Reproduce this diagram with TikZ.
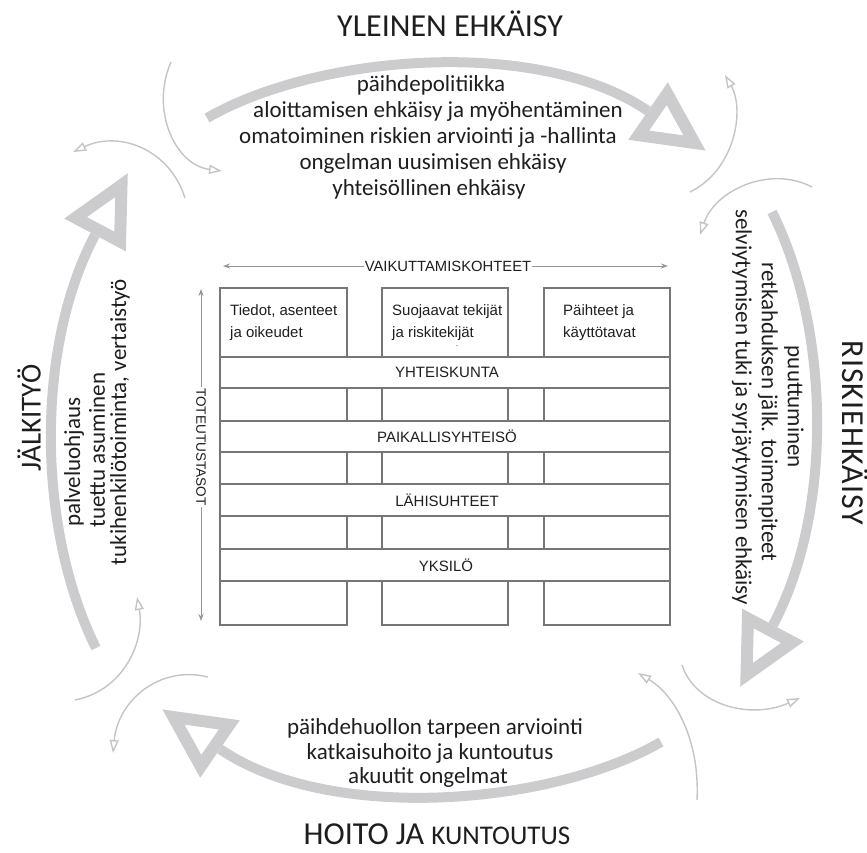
\documentclass[tikz,border=0pt]{standalone}
\usepackage{fontspec}
\setmainfont{Carlito}
\newfontfamily\arialf{Liberation Sans}
\usetikzlibrary{arrows.meta}
\definecolor{biggray}{RGB}{204,204,206}
\definecolor{thingray}{RGB}{196,196,198}
\definecolor{tablegray}{RGB}{118,118,118}
\definecolor{axisgray}{RGB}{150,150,150}
\definecolor{ink}{RGB}{30,30,30}
\begin{document}
\begin{tikzpicture}[x=1pt,y=-1pt,
  shaft/.style={draw=biggray, line width=10pt},
  headtri/.style={draw=biggray, line width=12pt, line join=miter},
  thinarrow/.style={draw=thingray, line width=1.4pt, -{Triangle[open,length=13pt,width=9pt]}},
  tbl/.style={draw=tablegray, line width=1.2pt},
  axis/.style={draw=axisgray, line width=0.9pt, {Stealth[length=7pt,width=5pt]}-{Stealth[length=7pt,width=5pt]}},
  body/.style={font=\fontsize{23}{27}\selectfont, text=ink, inner sep=0pt, anchor=base},
  side/.style={font=\fontsize{23}{27}\selectfont, text=ink, inner sep=0pt},
  head/.style={font=\fontsize{32}{36}\selectfont, text=ink, inner sep=0pt},
  tabtxt/.style={font=\arialf\fontsize{15}{18}\selectfont, text=ink, inner sep=0pt, anchor=base west},
  bandtxt/.style={font=\arialf\fontsize{15}{18}\selectfont, text=ink, inner sep=0pt},
  axtxt/.style={font=\arialf\fontsize{14.8}{16}\selectfont, text=ink, fill=white, inner xsep=1pt, inner ysep=1pt},
]
\useasboundingbox (0,0) rectangle (867,852);

% ---------- big grey cycle arrows ----------
\coordinate (topS) at (207,118);  \coordinate (topM) at (648,111);
\coordinate (rgtS) at (772,212);  \coordinate (rgtM) at (773,625);
\coordinate (botS) at (661,742);  \coordinate (botM) at (220,749);
\coordinate (lftS) at (96,648);   \coordinate (lftM) at (95,235);

\draw[shaft] (topS) .. controls (320,53) and (541,37.4) .. (topM);
\draw[shaft] (rgtS) .. controls (830,328) and (834,510) .. (rgtM);
\draw[shaft] (botS) .. controls (548,807) and (327,822.6) .. (botM);
\draw[shaft] (lftS) .. controls (38,532) and (34,350) .. (lftM);

\foreach \m/\a in {topM/-34.5, rgtM/-118, botM/145.5, lftM/62}{
  \begin{scope}[shift={(\m)}, rotate=\a]
    \draw[headtri] (56.45,0) -- (6.05,25.2) -- (6.05,-25.2) -- cycle;
  \end{scope}
}

% ---------- thin corner arrows ----------
\coordinate (a0) at (171,62);  \coordinate (a1) at (222,171);
\coordinate (b0) at (185,198); \coordinate (b1) at (73,152);
\coordinate (c0) at (690,192); \coordinate (c1) at (725,75);
\coordinate (d0) at (812,187); \coordinate (d1) at (700,235);
\coordinate (e0) at (682,665); \coordinate (e1) at (800,698);
\coordinate (f0) at (697,800); \coordinate (f1) at (638,673);
\coordinate (g0) at (75,700);  \coordinate (g1) at (137,597);
\coordinate (h0) at (208,677); \coordinate (h1) at (113,753);
\draw[thinarrow] (a0) .. controls (150,110) and (175,165) .. (a1);
\draw[thinarrow] (b0) .. controls (170,150) and (120,130) .. (b1);
\draw[thinarrow] (c0) .. controls (735,170) and (745,110) .. (c1);
\draw[thinarrow] (d0) .. controls (770,165) and (715,190) .. (d1);
\draw[thinarrow] (e0) .. controls (695,705) and (750,720) .. (e1);
\draw[thinarrow] (f0) .. controls (700,740) and (675,695) .. (f1);
\draw[thinarrow] (g0) .. controls (125,690) and (145,640) .. (g1);
\draw[thinarrow] (h0) .. controls (160,665) and (118,700) .. (h1);

% ---------- headings ----------
\node[head, anchor=base] (hTop) at (450,36) {YLEINEN EHKÄISY};
\node[head, anchor=base] (hBot) at (437,844) {HOITO JA {\fontsize{27}{30}\selectfont KUNTOUTUS}};
\node[head, rotate=-90] (hRgt) at (855,433) {\addfontfeatures{LetterSpace=3}RISKIEHKÄISY};
\node[head, rotate=90, font=\fontsize{29}{33}\selectfont] (hLft) at (29,418) {JÄLKITYÖ};

% ---------- top texts ----------
\node[body] (t1) at (431,91) {päihdepolitiikka};
\node[body] (t2) at (438,117) {aloittamisen ehkäisy ja myöhentäminen};
\node[body] (t3) at (428,143) {omatoiminen riskien arviointi ja -hallinta};
\node[body] (t4) at (433,169) {ongelman uusimisen ehkäisy};
\node[body] (t5) at (429,195) {yhteisöllinen ehkäisy};

% ---------- bottom texts ----------
\node[body] (u1) at (435,734) {päihdehuollon tarpeen arviointi};
\node[body] (u2) at (430,759) {katkaisuhoito ja kuntoutus};
\node[body] (u3) at (428,783) {akuutit ongelmat};

% ---------- right texts ----------
\node[side, rotate=-90] (r1) at (794,407) {puuttuminen};
\node[side, rotate=-90] (r2) at (768,412) {retkahduksen jälk. toimenpiteet};
\node[side, rotate=-90] (r3) at (742,407) {selviytymisen tuki ja syrjäytymisen ehkäisy};

% ---------- left texts ----------
\node[side, rotate=90] (l1) at (74,462) {palveluohjaus};
\node[side, rotate=90] (l2) at (97,450) {tuettu asuminen};
\node[side, rotate=90] (l3) at (120,422) {tukihenkilötoiminta, vertaistyö};

% ---------- central table ----------
\foreach \xa/\xb in {220/347,382/508,544/670}{
  \draw[tbl] (\xa,288) rectangle (\xb,357);
  \draw[tbl] (\xa,581) rectangle (\xb,625);
}
\foreach \ya/\yb in {388/421,452/484,516/549}{
  \foreach \xa/\xb in {220/347,347/382,382/508,508/544,544/670}{
    \draw[tbl] (\xa,\ya) rectangle (\xb,\yb);
  }
}
\foreach \ya/\yb in {357/388,421/452,484/516,549/581}{
  \draw[tbl] (220,\ya) rectangle (670,\yb);
}
\node[bandtxt] (b1) at (447,372.5) {YHTEISKUNTA};
\node[bandtxt] (b2) at (447,436.5) {PAIKALLISYHTEISÖ};
\node[bandtxt] (b3) at (447,500) {LÄHISUHTEET};
\node[bandtxt] (b4) at (446,565) {YKSILÖ};

\node[tabtxt] (x1a) at (230,315) {Tiedot, asenteet};
\node[tabtxt] (x1b) at (230,337) {ja oikeudet};
\node[tabtxt] (x2a) at (392,315) {Suojaavat tekijät};
\node[tabtxt] (x2b) at (392,337) {ja riskitekijät};
\node[tabtxt] (x3a) at (563,315) {Päihteet ja};
\node[tabtxt] (x3b) at (563,337) {käyttötavat};
\node[font=\arialf\fontsize{6}{6}\selectfont, text=ink, inner sep=0pt] (tick) at (457,347) {-};

% ---------- axes ----------
\coordinate (hl) at (223,266); \coordinate (hr) at (668,266);
\draw[axis] (hl) -- (hr);
\node[axtxt] (vk) at (448,266) {VAIKUTTAMISKOHTEET};
\coordinate (vt) at (201,289); \coordinate (vb) at (201,621);
\draw[axis] (vt) -- (vb);
\node[axtxt, rotate=-90, font=\arialf\fontsize{13.6}{16}\selectfont] (tt) at (201,447) {TOTEUTUSTASOT};
\end{tikzpicture}
\end{document}
